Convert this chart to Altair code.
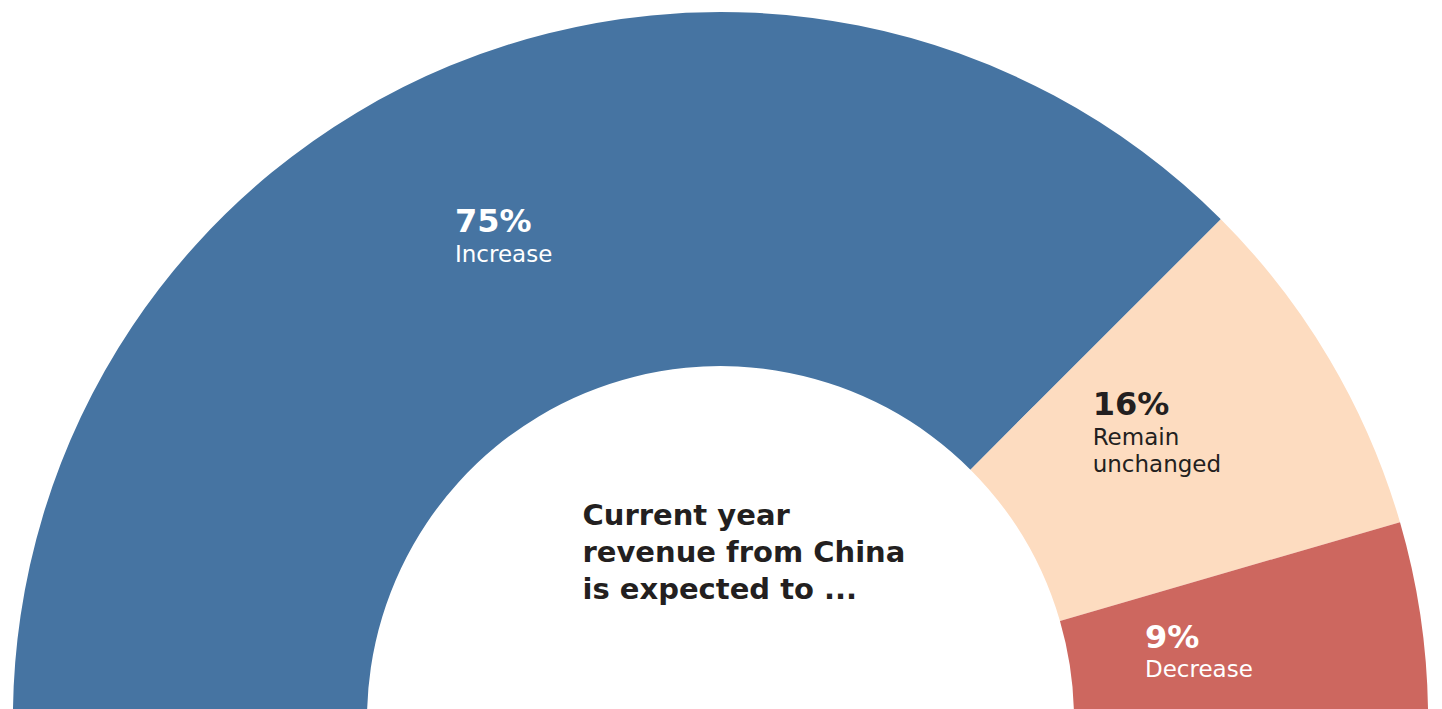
import math
import altair as alt
import pandas as pd

# ---- data ----
categories = ["Increase", "Remain unchanged", "Decrease"]
values = [75, 16, 9]
pct_labels = ["75%", "16%", "9%"]
name_labels = ["Increase", "Remain\nunchanged", "Decrease"]
colors = ["#4674A2", "#FDDCC0", "#CD675F"]
text_colors = ["#FFFFFF", "#231F20", "#FFFFFF"]
center_title = "Current year\nrevenue from China\nis expected to ..."

df = pd.DataFrame({
    "category": categories,
    "value": values,
    "order": list(range(len(categories))),
    "pct": pct_labels,
    "name": name_labels,
})

FONT = "DejaVu Sans"
CX, CY = 712.5, 711.6
R_OUT, R_IN = 707.6, 353.5

theta_scale = alt.Scale(domain=[0, sum(values)], range=[-math.pi / 2, math.pi / 2])

base = alt.Chart(df).transform_stack(
    stack="value", groupby=[], as_=["v0", "v1"], sort=[alt.SortField("order")]
).transform_calculate(mid="(datum.v0 + datum.v1) / 2")

arcs = base.mark_arc(radius=R_OUT, radius2=R_IN, stroke=None).encode(
    theta=alt.Theta("v0:Q", scale=theta_scale),
    theta2="v1:Q",
    color=alt.Color("category:N", scale=alt.Scale(domain=categories, range=colors), legend=None),
    x=alt.value(CX),
    y=alt.value(CY),
)

# label offsets (dx, dy) relative to the slice midpoint at radius 500
offsets = {
    "Increase": (-74.2, -25.7),
    "Remain unchanged": (-58.2, -50.1),
    "Decrease": (-70.5, -0.9),
}
name_gap = {"Increase": 30, "Remain unchanged": 30, "Decrease": 28.5}

layers = [arcs]
for cat, tcol in zip(categories, text_colors):
    dx, dy = offsets[cat]
    sub = base.transform_filter(alt.datum.category == cat)
    layers.append(
        sub.mark_text(
            radius=500, dx=dx, dy=dy, align="left", baseline="alphabetic",
            font=FONT, fontSize=32, fontWeight="bold", color=tcol,
        ).encode(theta=alt.Theta("mid:Q", scale=theta_scale), text="pct:N",
                 x=alt.value(CX), y=alt.value(CY))
    )
    layers.append(
        sub.mark_text(
            radius=500, dx=dx, dy=dy + name_gap[cat], align="left", baseline="alphabetic",
            font=FONT, fontSize=23, fontWeight="normal", color=tcol,
            lineBreak="\n", lineHeight=27,
        ).encode(theta=alt.Theta("mid:Q", scale=theta_scale), text="name:N",
                 x=alt.value(CX), y=alt.value(CY))
    )

title_text = alt.Chart(pd.DataFrame({"t": [center_title]})).mark_text(
    align="left", baseline="alphabetic", font=FONT, fontSize=29, fontWeight="bold",
    color="#231F20", lineBreak="\n", lineHeight=37,
).encode(text="t:N", x=alt.value(574.5), y=alt.value(517))

layers.append(title_text)

chart = alt.layer(*layers).properties(
    width=1426, height=701, padding=0, autosize=alt.AutoSizeParams(type="none")
).configure_view(stroke=None)

chart.save("out.html", embed_options={"renderer": "svg", "actions": False})
